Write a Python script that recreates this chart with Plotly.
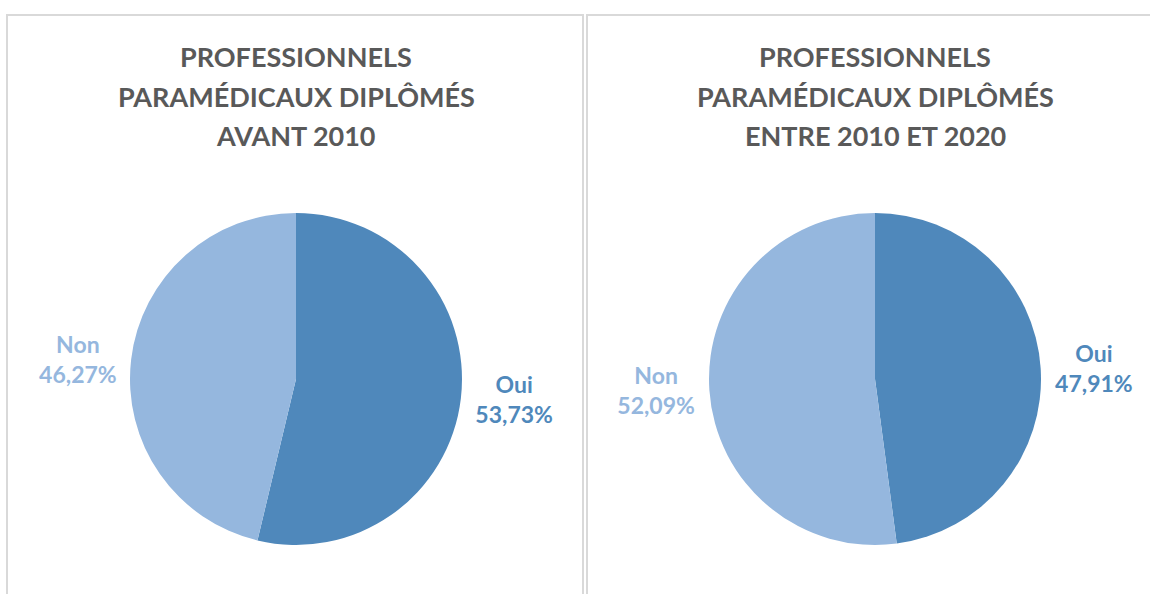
import plotly.graph_objects as go

labels = ["Oui", "Non"]
avant_2010 = [53.73, 46.27]
entre_2010_2020 = [47.91, 52.09]
titles = [
    ["PROFESSIONNELS", "PARAMÉDICAUX DIPLÔMÉS", "AVANT 2010"],
    ["PROFESSIONNELS", "PARAMÉDICAUX DIPLÔMÉS", "ENTRE 2010 ET 2020"],
]
colors = ["#4F88BB", "#95B7DE"]

W, H = 1150, 594
FONT = "Lato"

def dom(cx, cy, r):
    return dict(x=[(cx - r) / W, (cx + r) / W], y=[1 - (cy + r) / H, 1 - (cy - r) / H])

fig = go.Figure()
for vals, (cx, cy) in [(avant_2010, (296, 379)), (entre_2010_2020, (875, 379))]:
    fig.add_trace(go.Pie(
        labels=labels, values=vals, sort=False, direction="clockwise", rotation=0,
        marker=dict(colors=colors, line=dict(width=0)),
        texttemplate="<b>%{label}</b><br><b>%{percent:.2%}</b>",
        textposition="outside",
        textfont=dict(family=FONT, size=23, color=colors),
        domain=dom(cx, cy, 166), showlegend=False, hoverinfo="label+percent",
    ))

shapes = [
    dict(type="rect", xref="paper", yref="paper", x0=7 / W, x1=583 / W, y0=-0.1, y1=1 - 15 / H,
         line=dict(color="#D9D9D9", width=2), fillcolor="rgba(0,0,0,0)", layer="below"),
    dict(type="rect", xref="paper", yref="paper", x0=587 / W, x1=1.1, y0=-0.1, y1=1 - 15 / H,
         line=dict(color="#D9D9D9", width=2), fillcolor="rgba(0,0,0,0)", layer="below"),
]

annotations = []
for cx, lines in zip([296, 875], titles):
    for ly, txt in zip([57, 97, 135], lines):
        annotations.append(dict(
            text="<b>" + txt + "</b>", x=cx / W, y=1 - ly / H, xref="paper", yref="paper",
            xanchor="center", yanchor="middle", showarrow=False,
            font=dict(family=FONT, size=27, color="#595959"),
        ))

fig.update_layout(
    width=W, height=H, margin=dict(l=0, r=0, t=0, b=0),
    paper_bgcolor="white", plot_bgcolor="white",
    separators=", ", shapes=shapes, annotations=annotations,
)
fig.write_html("out.html", config={"displayModeBar": False},
               post_script="document.body.style.margin='0';document.body.style.overflow='hidden';")
